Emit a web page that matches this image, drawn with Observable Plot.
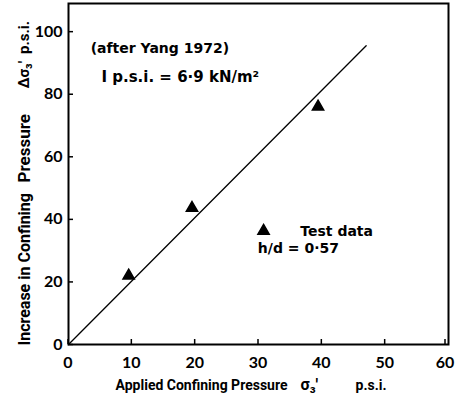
<!DOCTYPE html>
<html><head><meta charset="utf-8">
<script src="https://cdn.jsdelivr.net/npm/d3@7"></script>
<script src="https://cdn.jsdelivr.net/npm/@observablehq/plot@0.6"></script>
<style>
body{margin:0;background:#fff;}
</style>
</head><body>
<div id="chart"></div>
<script>
// Test data (Yang 1972)
const appliedPressure = [9.5, 19.5, 39.4];
const pressureIncrease = [22, 43.6, 76];
// Fitted line
const lineX = [0, 47];
const lineY = [0, 95.5];
const xTicks = [0, 10, 20, 30, 40, 50];
const xTicksLast = [60];
const yTicks = [0, 20, 40, 60, 80, 100];
const notes = ["(after Yang 1972)", "I p.s.i. = 6·9 kN/m²", "Test data", "h/d = 0·57"];
const xLabelParts = ["Applied Confining Pressure", "σ₃′", "p.s.i."];
const yLabelParts = ["Increase in Confining", "Pressure", "Δσ₃′", "p.s.i."];

const points = appliedPressure.map((x, i) => ({x, y: pressureIncrease[i]}));
const fit = lineX.map((x, i) => ({x, y: lineY[i]}));
const noteFont = {fontSize: 14, fontWeight: "bold", fontFamily: "DejaVu Sans", textAnchor: "start"};
const xLab = {fontSize: 14, fontWeight: "bold", fontFamily: "Roboto"};
const yLab = {fontSize: 16, fontWeight: "bold", fontFamily: "Roboto"};
const tickOpts = {tickSize: -5, label: null, fontSize: 16, fontWeight: "bold", strokeWidth: 1.5};

const chart = Plot.plot({
  width: 455, height: 397,
  marginLeft: 68, marginTop: 3, marginRight: 7, marginBottom: 53,
  x: {domain: [0, 60]},
  y: {domain: [0, 109]},
  style: {fontFamily: "Lato, sans-serif", color: "#000", background: "#fff"},
  marks: [
    Plot.axisX({ticks: xTicks, tickPadding: 17, dx: -0.5, ...tickOpts}),
    Plot.axisX({ticks: xTicksLast, tickPadding: 17, dx: -3.5, ...tickOpts}),
    Plot.axisY({ticks: yTicks, tickPadding: 11, ...tickOpts}),
    Plot.frame({stroke: "#000", strokeWidth: 2}),
    Plot.line(fit, {x: "x", y: "y", stroke: "#000", strokeWidth: 1.3}),
    Plot.dot(points, {x: "x", y: "y", symbol: "triangle", r: 4.2, fill: "#000", stroke: "#000"}),
    Plot.dot([{x: 30.8, y: 36.3}], {x: "x", y: "y", symbol: "triangle", r: 4.2, fill: "#000", stroke: "#000"}),
    Plot.text([notes[0]], {x: 3.5, y: 94.6, text: d => d, ...noteFont}),
    Plot.text([notes[1]], {x: 5.2, y: 85.4, text: d => d, ...noteFont, fontSize: 15, letterSpacing: "0.9px"}),
    Plot.text([notes[2]], {x: 36.6, y: 36.2, text: d => d, ...noteFont}),
    Plot.text([notes[3]], {x: 29.9, y: 30.8, text: d => d, ...noteFont}),
    // x-axis label pieces
    Plot.text([xLabelParts[0]], {frameAnchor: "bottom", dx: 29, dy: 45, textAnchor: "end", text: d => d, ...xLab}),
    Plot.text([xLabelParts[1]], {frameAnchor: "bottom", dx: 42, dy: 45, textAnchor: "start", text: d => d, ...xLab, fontSize: 16}),
    Plot.text([xLabelParts[2]], {frameAnchor: "bottom", dx: 97, dy: 45, textAnchor: "start", text: d => d, ...xLab}),
    // y-axis label pieces
    Plot.text([yLabelParts[0]], {frameAnchor: "left", rotate: -90, dx: -44, dy: 171.5, textAnchor: "start", text: d => d, ...yLab}),
    Plot.text([yLabelParts[1]], {frameAnchor: "left", rotate: -90, dx: -44, dy: 8.5, textAnchor: "start", text: d => d, ...yLab, fontSize: 17}),
    Plot.text([yLabelParts[2]], {frameAnchor: "left", rotate: -90, dx: -44, dy: -85.5, textAnchor: "start", text: d => d, ...yLab, fontSize: 15}),
    Plot.text([yLabelParts[3]], {frameAnchor: "left", rotate: -90, dx: -44, dy: -120, textAnchor: "start", text: d => d, ...yLab, fontSize: 15})
  ]
});
document.getElementById("chart").appendChild(chart);
</script>
</body></html>
